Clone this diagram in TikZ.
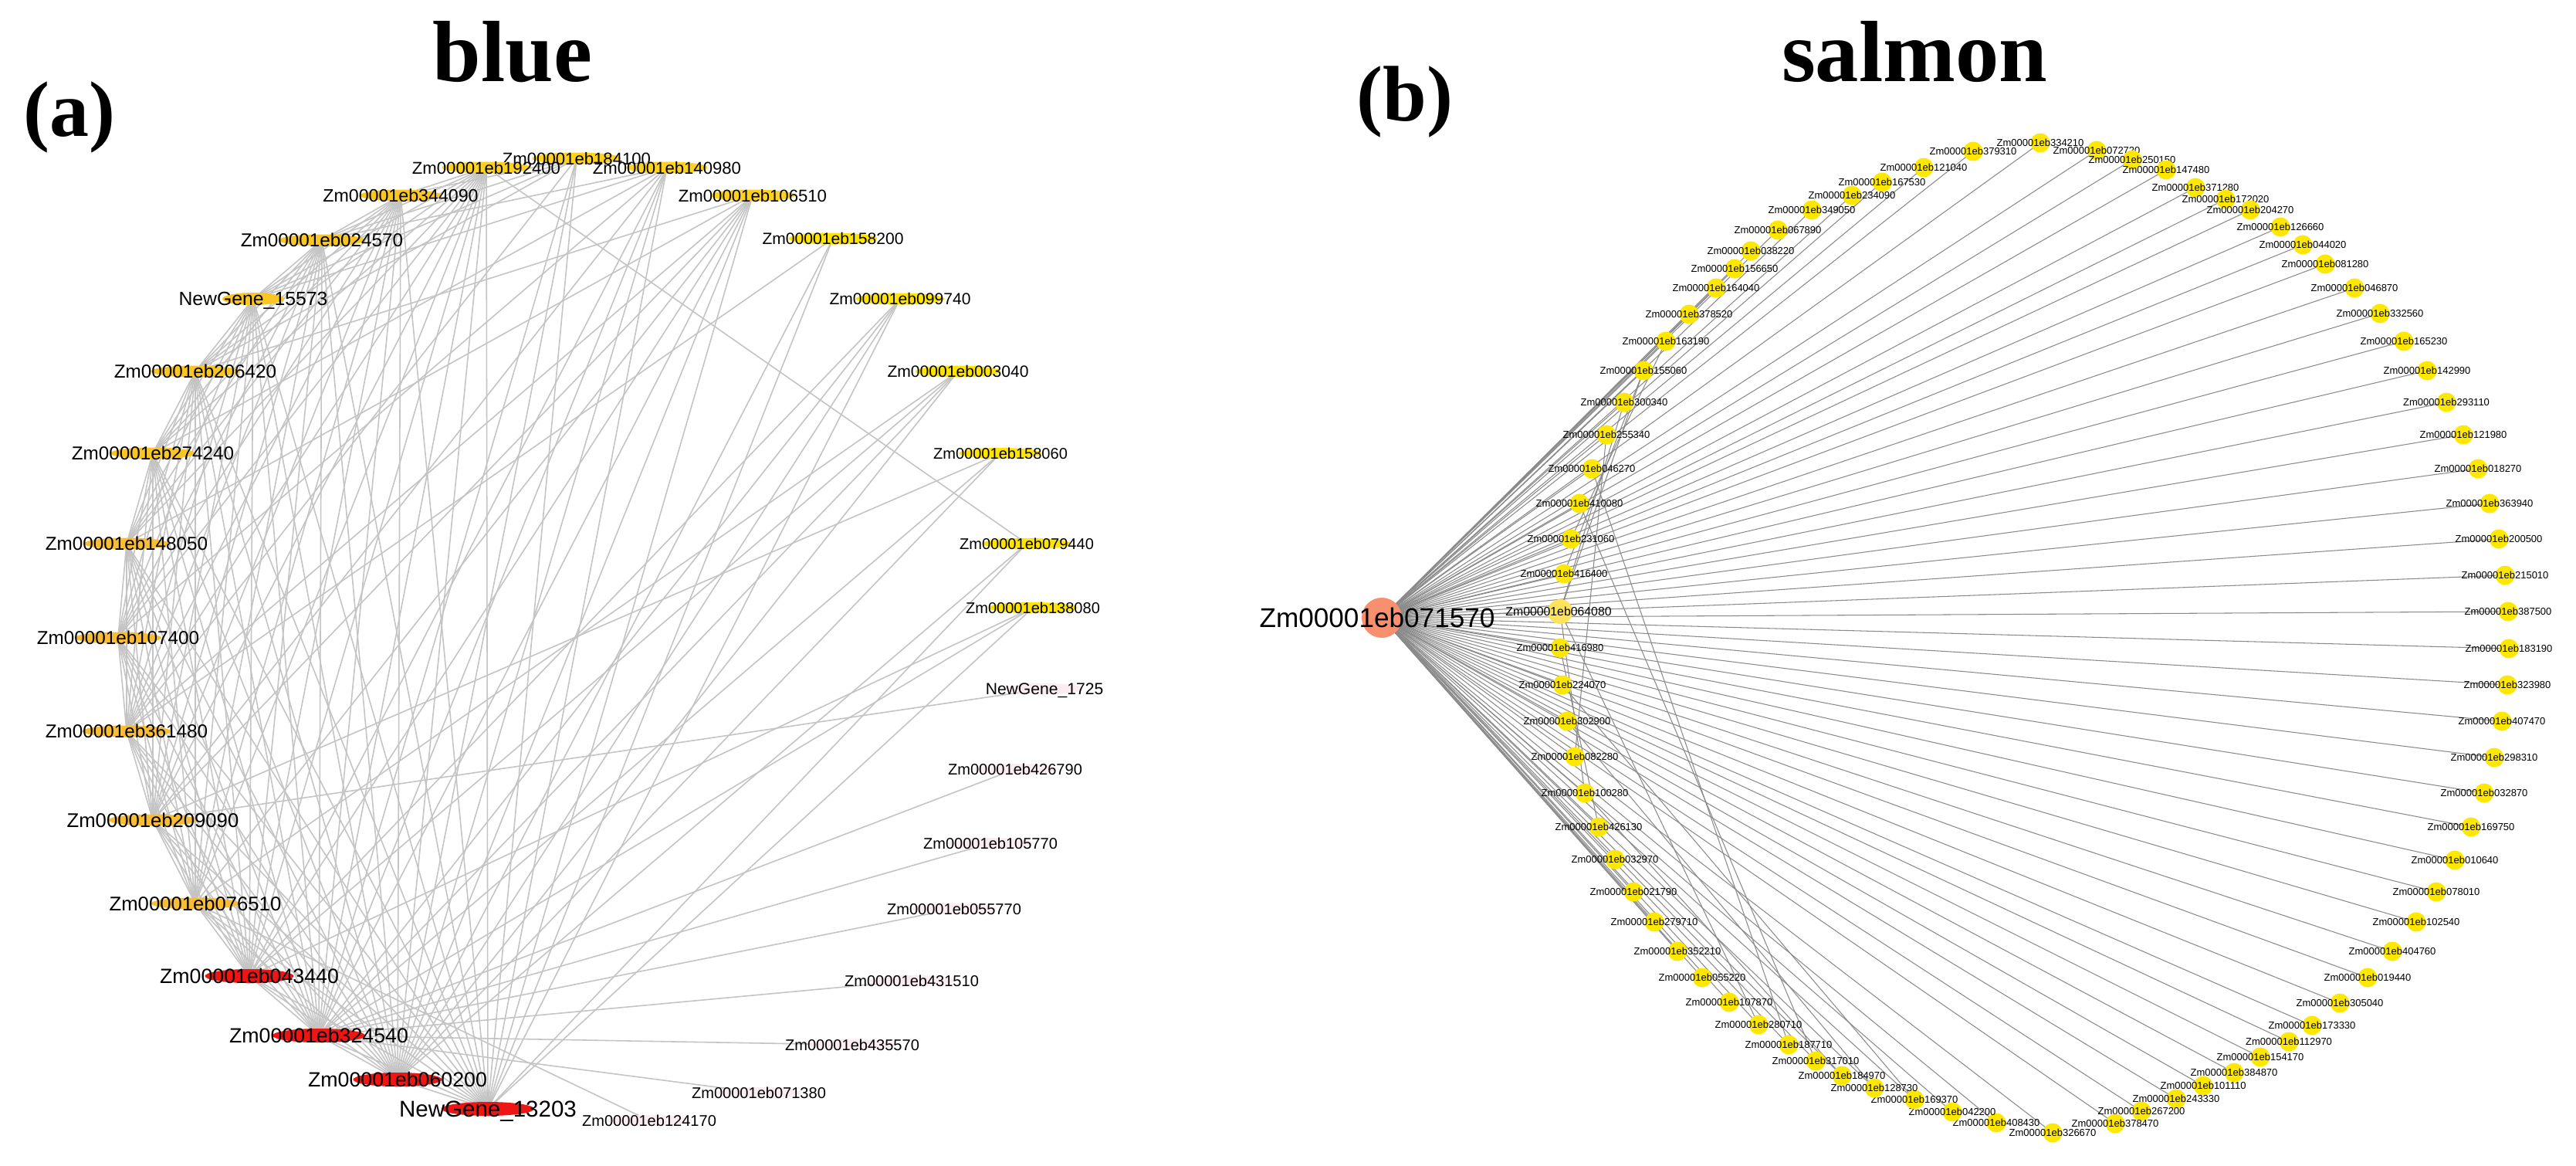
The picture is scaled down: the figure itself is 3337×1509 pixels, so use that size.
\documentclass[tikz,border=0pt]{standalone}
\usepackage{fontspec}
\setmainfont{Liberation Sans}
\newfontfamily\serifbold{Liberation Serif}
\usetikzlibrary{shapes.geometric}
\pgfdeclarelayer{bg}
\pgfdeclarelayer{edges}
\pgfsetlayers{bg,edges,main}
\definecolor{cA}{HTML}{FFD21F}
\definecolor{cB}{HTML}{F9C623}
\definecolor{cO}{HTML}{F9BC35}
\definecolor{cY}{HTML}{FFE400}
\definecolor{cR}{HTML}{EE1515}
\definecolor{cP}{HTML}{FBECF1}
\definecolor{byel}{HTML}{FFE800}
\definecolor{bpale}{HTML}{FFE35C}
\definecolor{hubc}{HTML}{F8906F}
\definecolor{aline}{HTML}{C4C4C4}
\definecolor{bline}{HTML}{8A8A8A}
\tikzset{
  abar/.style={ellipse, draw=none, inner sep=0pt, outer sep=0pt},
  alab/.style={inner sep=0pt, text depth=0pt, text=black},
  aedge/.style={draw=aline, line width=0.45pt},
  bedge/.style={draw=bline, line width=0.3pt},
  bdot/.style={circle, fill=byel, draw=none, minimum size=0.25cm, inner sep=0pt},
  blab/.style={inner sep=0pt, text depth=0pt, font=\fontsize{3.7pt}{3.7pt}\selectfont},
  ttl/.style={inner sep=0pt, font=\serifbold\bfseries\fontsize{32pt}{32pt}\selectfont},
  tag/.style={inner sep=0pt, font=\serifbold\bfseries\fontsize{29pt}{29pt}\selectfont}
}
\newcommand\mka[8]{%
  \node[abar, fill=#6, minimum width=#7cm, minimum height=#8cm] (#1) at (#2,#3) {};%
  \node[alab, font=\fontsize{#5pt}{#5pt}\selectfont] (#1t) at (#2,#3) {#4};%
}
\def\acore{a2,a4,a6,a8,a10,a12,a14,a17,a19,a21,a23,a25,a27,a29,a31}
\def\blist{416400/2026/743, 231060/2035/698, 410080/2046/652, 046270/2062/607, 255340/2081/563, 300340/2104/521, 155060/2129/480, 163190/2158/442, 378520/2188/407, 164040/2223/373, 156650/2247/348, 038220/2268/325, 067890/2303/298, 349050/2347/272, 234090/2399/253, 167530/2438/236, 121040/2492/217, 379310/2556/196, 334210/2643/185, 072720/2716/195, 250150/2762/207, 147480/2806/220, 371280/2844/243, 172020/2883/258, 204270/2915/272, 126660/2954/294, 044020/2983/317, 081280/3012/342, 046870/3050/373, 332560/3083/406, 165230/3114/442, 142990/3144/480, 293110/3169/521, 121980/3191/563, 018270/3210/607, 363940/3225/652, 200500/3237/698, 215010/3245/745, 387500/3249/792, 183190/3250/840, 323980/3248/887, 407470/3241/934, 298310/3231/981, 032870/3218/1027, 169750/3201/1071, 010640/3180/1114, 078010/3156/1155, 102540/3130/1194, 404760/3099/1232, 019440/3067/1266, 305040/3031/1299, 173330/2995/1328, 112970/2965/1349, 154170/2928/1369, 384870/2894/1389, 101110/2854/1406, 243330/2819/1423, 267200/2774/1439, 378470/2740/1455, 326670/2659/1467, 408430/2586/1454, 042200/2529/1440, 169370/2480/1424, 128730/2428/1409, 184970/2386/1393, 317010/2352/1374, 187710/2317/1353, 280710/2278/1327, 107870/2240/1298, 055220/2205/1266, 352210/2173/1232, 279710/2143/1194, 021790/2116/1155, 032970/2092/1113, 426130/2071/1071, 100280/2053/1027, 082280/2040/980, 302900/2030/934, 224070/2024/887, 416980/2021/839}
\begin{document}
\begin{tikzpicture}[x=0.01cm, y=-0.01cm]
\begin{pgfonlayer}{bg}
\fill[white] (0,0) rectangle (3337,1509);
\end{pgfonlayer}
\useasboundingbox (0,0) rectangle (3337,1509);
% titles
\node[ttl, anchor=base] (tblue) at (664,105) {blue};
\node[ttl, anchor=base] (tsalmon) at (2480,105) {salmon};
\node[tag] (taga) at (90,152) {(a)};
\node[tag] (tagb) at (1820,132) {(b)};
% ---------- panel (a) nodes
\mka{a1}{747}{205}{Zm00001eb184100}{6.3}{cA}{1.15}{0.15}
\mka{a2}{630}{217}{Zm00001eb192400}{6.3}{cA}{1.15}{0.15}
\mka{a3}{864}{217}{Zm00001eb140980}{6.3}{cA}{1.05}{0.15}
\mka{a4}{519}{253}{Zm00001eb344090}{6.6}{cB}{1.05}{0.15}
\mka{a5}{975}{253}{Zm00001eb106510}{6.3}{cA}{1.1}{0.15}
\mka{a6}{417}{311}{Zm00001eb024570}{6.9}{cB}{1.12}{0.15}
\mka{a7}{1079}{309}{Zm00001eb158200}{6.0}{cY}{1.15}{0.15}
\mka{a8}{328}{387}{NewGene\_15573}{7.05}{cB}{0.8}{0.16}
\mka{a9}{1166}{387}{Zm00001eb099740}{6.0}{cY}{1.15}{0.15}
\mka{a10}{253}{481}{Zm00001eb206420}{6.9}{cB}{1.15}{0.15}
\mka{a11}{1241}{481}{Zm00001eb003040}{6.0}{cY}{1.1}{0.15}
\mka{a12}{198}{587}{Zm00001eb274240}{6.9}{cB}{1.1}{0.15}
\mka{a13}{1296}{587}{Zm00001eb158060}{5.7}{cY}{1.07}{0.14}
\mka{a14}{164}{704}{Zm00001eb148050}{6.9}{cO}{1.1}{0.15}
\mka{a15}{1330}{704}{Zm00001eb079440}{5.7}{cY}{1.15}{0.14}
\mka{a16}{1338}{787}{Zm00001eb138080}{5.7}{cY}{1.15}{0.14}
\mka{a17}{153}{826}{Zm00001eb107400}{6.9}{cO}{1.12}{0.15}
\mka{a18}{1353}{892}{NewGene\_1725}{6.0}{cP}{1.0}{0.14}
\mka{a19}{164}{947}{Zm00001eb361480}{6.9}{cO}{1.15}{0.15}
\mka{a20}{1315}{996}{Zm00001eb426790}{5.7}{cP}{1.1}{0.14}
\mka{a21}{198}{1062}{Zm00001eb209090}{7.3}{cO}{1.15}{0.15}
\mka{a22}{1283}{1092}{Zm00001eb105770}{5.7}{cP}{1.1}{0.14}
\mka{a23}{253}{1170}{Zm00001eb076510}{7.3}{cO}{1.15}{0.15}
\mka{a24}{1236}{1177}{Zm00001eb055770}{5.7}{cP}{1.1}{0.14}
\mka{a25}{323}{1264}{Zm00001eb043440}{7.6}{cR}{1.15}{0.18}
\mka{a26}{1181}{1270}{Zm00001eb431510}{5.7}{cP}{1.1}{0.14}
\mka{a27}{413}{1341}{Zm00001eb324540}{7.6}{cR}{1.2}{0.18}
\mka{a28}{1104}{1353}{Zm00001eb435570}{5.7}{cP}{1.1}{0.14}
\mka{a29}{515}{1398}{Zm00001eb060200}{7.6}{cR}{1.15}{0.18}
\mka{a30}{983}{1415}{Zm00001eb071380}{5.7}{cP}{1.1}{0.14}
\mka{a31}{632}{1436}{NewGene\_13203}{8.4}{cR}{1.2}{0.18}
\mka{a32}{841}{1451}{Zm00001eb124170}{5.7}{cP}{1.1}{0.14}
% ---------- panel (a) edges
\begin{pgfonlayer}{edges}
\foreach \u [count=\i] in \acore {
  \foreach \v [count=\j] in \acore {
    \ifnum\j>\i \draw[aedge] (\u.center) -- (\v.center); \fi
  }
}
\foreach \s/\t in {a1/a4,a1/a6,a1/a8,a1/a10,a1/a19,a1/a27,a1/a29,a1/a31,
  a3/a6,a3/a8,a3/a12,a3/a17,a3/a21,a3/a25,a3/a27,a3/a29,a3/a31,
  a5/a10,a5/a14,a5/a19,a5/a21,a5/a23,a5/a25,a5/a27,a5/a29,a5/a31,
  a7/a19,a7/a29,a7/a31,a9/a25,a9/a27,a9/a29,a9/a31,a11/a23,a11/a25,a11/a27,a11/a29,
  a13/a21,a13/a27,a13/a29,a15/a2,a15/a29,a15/a31,a16/a25,a16/a27,a16/a31,
  a18/a21,a20/a27,a22/a27,a24/a27,a26/a27,a28/a27,a30/a27,a32/a23}
  \draw[aedge] (\s.center) -- (\t.center);
\end{pgfonlayer}
% ---------- panel (b) nodes
\node[circle, fill=hubc, draw=none, minimum size=0.52cm, inner sep=0pt] (hub) at (1790,800) {};
\node[alab, font=\fontsize{10pt}{10pt}\selectfont] (hubt) at (1784,800) {Zm00001eb071570};
\foreach \n/\x/\y in \blist {
  \node[bdot] (b\n) at (\x,\y) {};
  \node[blab] (t\n) at (\x,\y) {Zm00001eb\n};
}
\node[bdot, fill=bpale, minimum size=0.32cm] (b064080) at (2021,792) {};
\node[blab, font=\fontsize{4.5pt}{4.5pt}\selectfont] (t064080) at (2019,792) {Zm00001eb064080};
% ---------- panel (b) edges
\begin{pgfonlayer}{edges}
\foreach \n/\x/\y in \blist \draw[bedge] (hub.center) -- (b\n.center);
\draw[bedge] (hub.center) -- (b064080.center);
\foreach \s/\t in {064080/300340,064080/155060,064080/100280,064080/280710,416980/426130,
  255340/082280,046270/187710,410080/317010,155060/416400,163190/231060,
  100280/184970,302900/128730,224070/169370}
  \draw[bedge] (b\s.center) -- (b\t.center);
\end{pgfonlayer}
\end{tikzpicture}
\end{document}
